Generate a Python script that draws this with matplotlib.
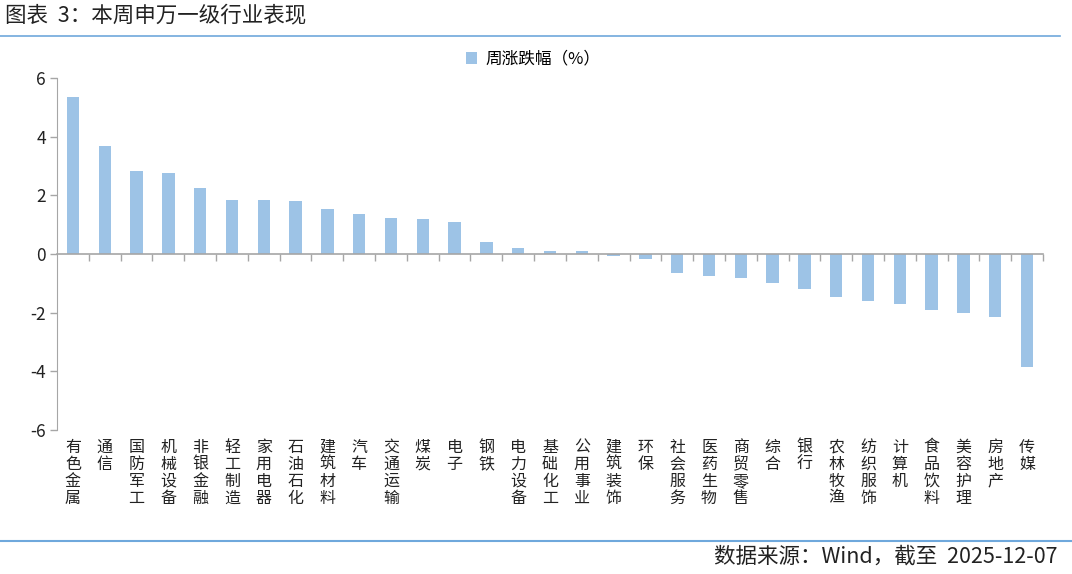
import numpy as np
import matplotlib.pyplot as plt

plt.rcParams['font.family'] = ['Noto Sans CJK SC', 'DejaVu Sans']

# 申万一级行业 本周涨跌幅(%)
industries = ["有色金属", "通信", "国防军工", "机械设备", "非银金融", "轻工制造", "家用电器",
              "石油石化", "建筑材料", "汽车", "交通运输", "煤炭", "电子", "钢铁", "电力设备",
              "基础化工", "公用事业", "建筑装饰", "环保", "社会服务", "医药生物", "商贸零售",
              "综合", "银行", "农林牧渔", "纺织服饰", "计算机", "食品饮料", "美容护理",
              "房地产", "传媒"]
weekly_chg = [5.35, 3.68, 2.83, 2.76, 2.25, 1.84, 1.83, 1.81, 1.53, 1.36, 1.23, 1.19,
              1.09, 0.41, 0.20, 0.10, 0.09, -0.06, -0.17, -0.65, -0.74, -0.83, -1.00,
              -1.18, -1.48, -1.60, -1.72, -1.90, -2.00, -2.14, -3.86]
yticks = [-6, -4, -2, 0, 2, 4, 6]

bar_color = "#9DC3E6"
axis_gray = "#A6A6A6"
line_blue = "#6FA8DC"

fig = plt.figure(figsize=(10.72, 5.74), dpi=100)
ax = fig.add_axes([57/1072, 1-430/574, (1043-57)/1072, 352/574])

x = np.arange(len(industries))
ax.bar(x, weekly_chg, width=0.39, color=bar_color, label="周涨跌幅（%）", zorder=2)

ax.set_xlim(-0.5, len(industries) - 0.5)
ax.set_ylim(-6, 6)
ax.set_yticks(yticks)
ax.set_yticklabels([str(v) for v in yticks], fontsize=12.5, color="#222222")
ax.tick_params(axis="y", length=5, color=axis_gray, width=1, pad=3)

for s in ["top", "right"]:
    ax.spines[s].set_visible(False)
ax.spines["left"].set_color(axis_gray)
ax.spines["bottom"].set_position(("data", 0))
ax.spines["bottom"].set_color(axis_gray)
ax.spines["bottom"].set_linewidth(1.2)

# ticks between categories on the zero line
ax.set_xticks(np.arange(0.5, len(industries), 1.0))
ax.set_xticklabels([])
ax.tick_params(axis="x", direction="out", length=5, color=axis_gray, width=1)

# vertical stacked category labels below the plot
for i, name in enumerate(industries):
    ax.text(i, -6.3, "\n".join(name), ha="center", va="top", fontsize=11.5,
            linespacing=1.0, color="#222222")

leg = ax.legend(loc="upper center", bbox_to_anchor=(0.483, 1.12), frameon=False,
                fontsize=12, handlelength=0.7, handleheight=0.7, handletextpad=0.5)

fig.text(5/1072, 1-15/574, "图表  3：本周申万一级行业表现", fontsize=15.5, va="center", ha="left",
         color="#222222")
fig.add_artist(plt.Line2D([0, 1060/1072], [1-36/574, 1-36/574], color=line_blue, lw=1.2))
fig.add_artist(plt.Line2D([0, 1], [1-541/574, 1-541/574], color=line_blue, lw=1.5))
fig.text(1058/1072, 1-557/574, "数据来源：Wind，截至  2025-12-07", fontsize=15.5, va="center",
         ha="right", color="#222222")

fig.savefig("out.png", dpi=100)
